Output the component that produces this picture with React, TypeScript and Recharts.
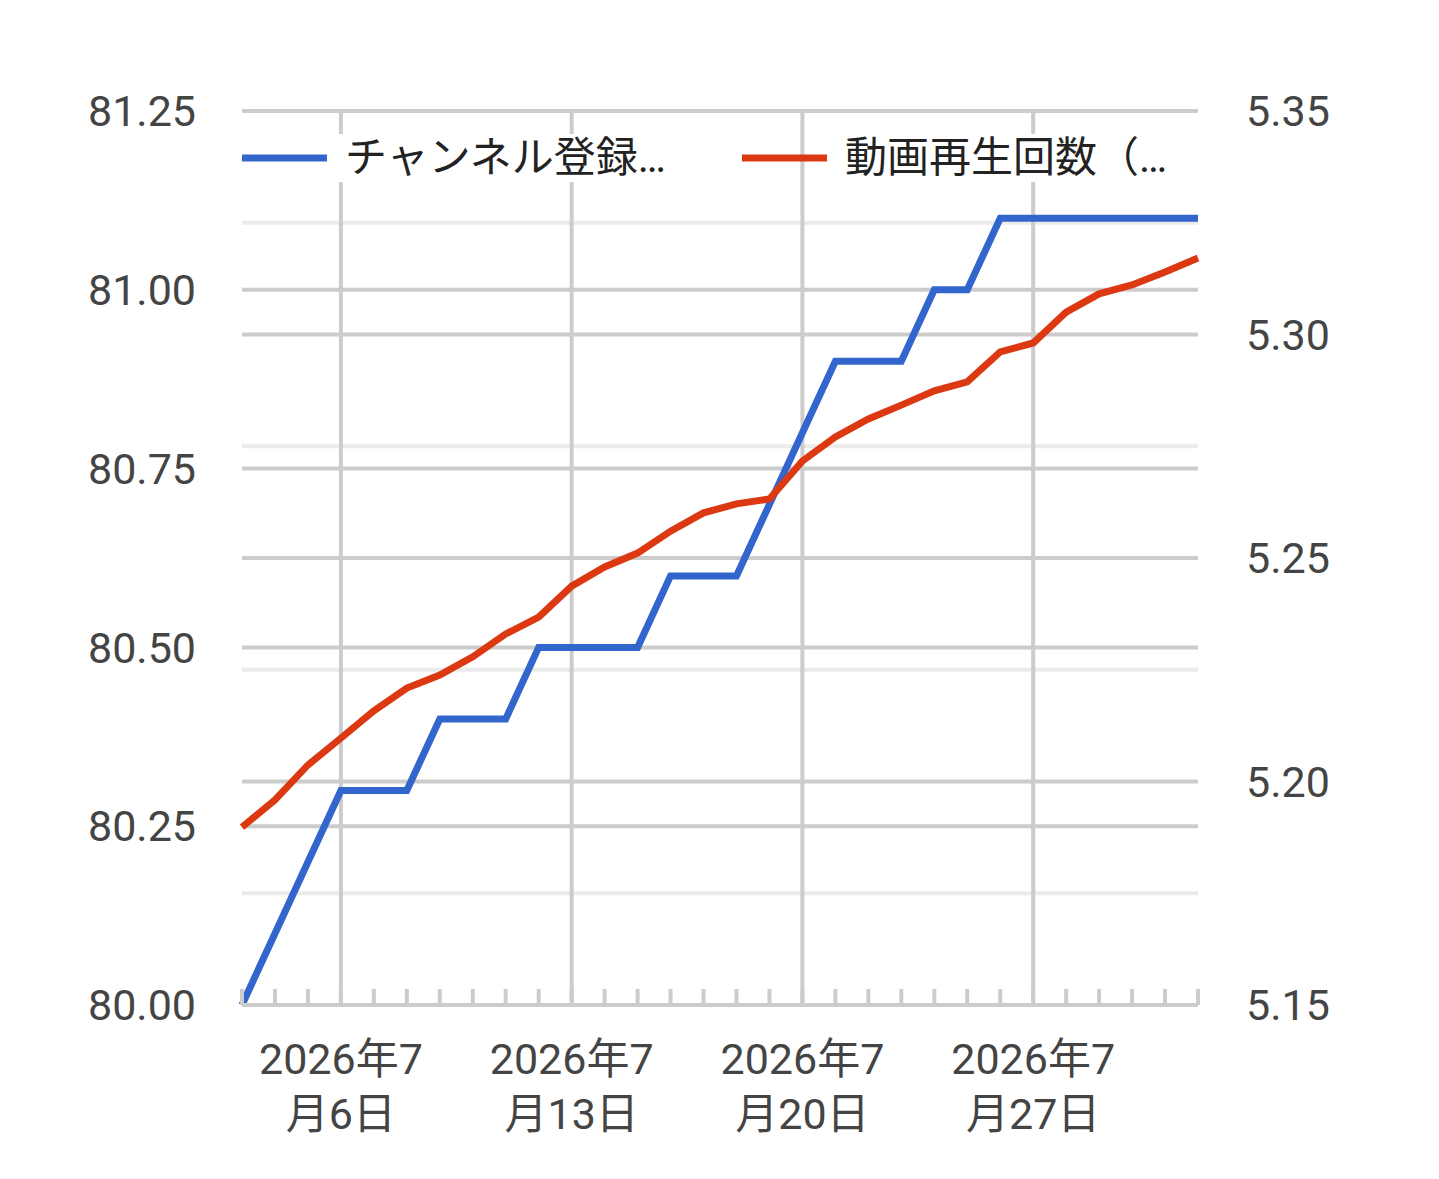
import React from 'react';
import { LineChart, Line, XAxis, YAxis, CartesianGrid, Legend } from 'recharts';

const FONT = "Roboto, 'Noto Sans CJK JP', sans-serif";

// day of month (July 2026; 32 = Aug 1)
const days = [3, 4, 5, 6, 7, 8, 9, 10, 11, 12, 13, 14, 15, 16, 17, 18, 19, 20, 21, 22, 23, 24, 25, 26, 27, 28, 29, 30, 31, 32];
const subscribers = [
	80.0, 80.1, 80.2, 80.3, 80.3, 80.3, 80.4, 80.4, 80.4, 80.5, 80.5, 80.5, 80.5, 80.6, 80.6,
	80.6, 80.7, 80.8, 80.9, 80.9, 80.9, 81.0, 81.0, 81.1, 81.1, 81.1, 81.1, 81.1, 81.1, 81.1,
];
const views = [
	5.1898, 5.1959, 5.2037, 5.2097, 5.2158, 5.2209, 5.2238, 5.2279, 5.233, 5.2368, 5.2437, 5.248,
	5.2511, 5.256, 5.2601, 5.2621, 5.2632, 5.2717, 5.2771, 5.2811, 5.2842, 5.2874, 5.2894, 5.2961,
	5.2981, 5.305, 5.3091, 5.3111, 5.314, 5.3171,
];

const leftTicks = [80, 80.25, 80.5, 80.75, 81, 81.25];
const rightTicks = [5.15, 5.2, 5.25, 5.3, 5.35];
const rightMinorTicks = [5.175, 5.225, 5.275, 5.325];
const majorDays = [6, 13, 20, 27];
const majorLabels = ['2026年7月6日', '2026年7月13日', '2026年7月20日', '2026年7月27日'];
const seriesNames = ['チャンネル登録…', '動画再生回数（…'];

const data = days.map((day, i) => ({ day, subs: subscribers[i], views: views[i] }));

const DayTick = (props: any) => {
	const { x, y, payload } = props;
	const idx = majorDays.indexOf(payload.value);
	const m = idx >= 0 ? majorLabels[idx].match(/^(.*年\d+)(月.*)$/) : null;
	return (
		<g>
			<line x1={x} x2={x} y1={y} y2={y - 16} stroke='#ccc' strokeWidth={4} />
			{m && (
				<text x={x} y={y} textAnchor='middle' fill='#444' fontSize={43} fontFamily={FONT}>
					<tspan x={x} dy={69}>{m[1]}</tspan>
					<tspan x={x} dy={55}>{m[2]}</tspan>
				</text>
			)}
		</g>
	);
};

const LegendContent = (props: any) => (
	<div style={{ display: 'flex', fontFamily: FONT, fontSize: 42, color: '#222' }}>
		{(props.payload || []).map((entry: any) => (
			<div key={entry.value} style={{ width: 500, display: 'flex', alignItems: 'center' }}>
				<svg width={85} height={8} style={{ display: 'block' }}>
					<line x1={0} x2={85} y1={4} y2={4} stroke={entry.color} strokeWidth={7} />
				</svg>
				<span style={{ marginLeft: 11, padding: '3px 7px', background: '#fff', lineHeight: '42px' }}>
					{entry.value}
				</span>
			</div>
		))}
	</div>
);

export default function App() {
	const tickStyle = { fill: '#444', fontSize: 43, fontFamily: FONT };
	return (
		<LineChart
			width={1423}
			height={1163}
			data={data}
			margin={{ top: 103, right: 33, bottom: 0, left: 34 }}
		>
			<CartesianGrid yAxisId='right' horizontalValues={rightMinorTicks} vertical={false} stroke='#ebebeb' strokeWidth={4} />
			<CartesianGrid yAxisId='right' horizontalValues={rightTicks} vertical={false} stroke='#ccc' strokeWidth={4} />
			<CartesianGrid yAxisId='left' horizontalValues={leftTicks} verticalValues={majorDays} stroke='#ccc' strokeWidth={4} />
			<XAxis
				dataKey='day'
				type='number'
				domain={[3, 32]}
				ticks={days}
				interval={0}
				tick={<DayTick />}
				tickLine={false}
				tickSize={0}
				tickMargin={0}
				axisLine={{ stroke: '#ccc', strokeWidth: 4 }}
				height={166}
			/>
			<YAxis
				yAxisId='left'
				domain={[80, 81.25]}
				ticks={leftTicks}
				interval={0}
				tickFormatter={(v: number) => v.toFixed(2)}
				axisLine={false}
				tickLine={false}
				tickSize={0}
				tickMargin={46}
				width={200}
				tick={tickStyle}
			/>
			<YAxis
				yAxisId='right'
				orientation='right'
				domain={[5.15, 5.35]}
				ticks={rightTicks}
				interval={0}
				tickFormatter={(v: number) => v.toFixed(2)}
				axisLine={false}
				tickLine={false}
				tickSize={0}
				tickMargin={48}
				width={200}
				tick={tickStyle}
			/>
			<Legend
				layout='horizontal'
				align='center'
				verticalAlign='middle'
				content={<LegendContent />}
				wrapperStyle={{ top: 126, left: 234, width: 1000, height: 48 }}
			/>
			<Line
				yAxisId='left'
				dataKey='subs'
				name={seriesNames[0]}
				type='linear'
				stroke='#3366cc'
				strokeWidth={7}
				dot={false}
				isAnimationActive={false}
			/>
			<Line
				yAxisId='right'
				dataKey='views'
				name={seriesNames[1]}
				type='linear'
				stroke='#dc3912'
				strokeWidth={7}
				dot={false}
				isAnimationActive={false}
			/>
		</LineChart>
	);
}
